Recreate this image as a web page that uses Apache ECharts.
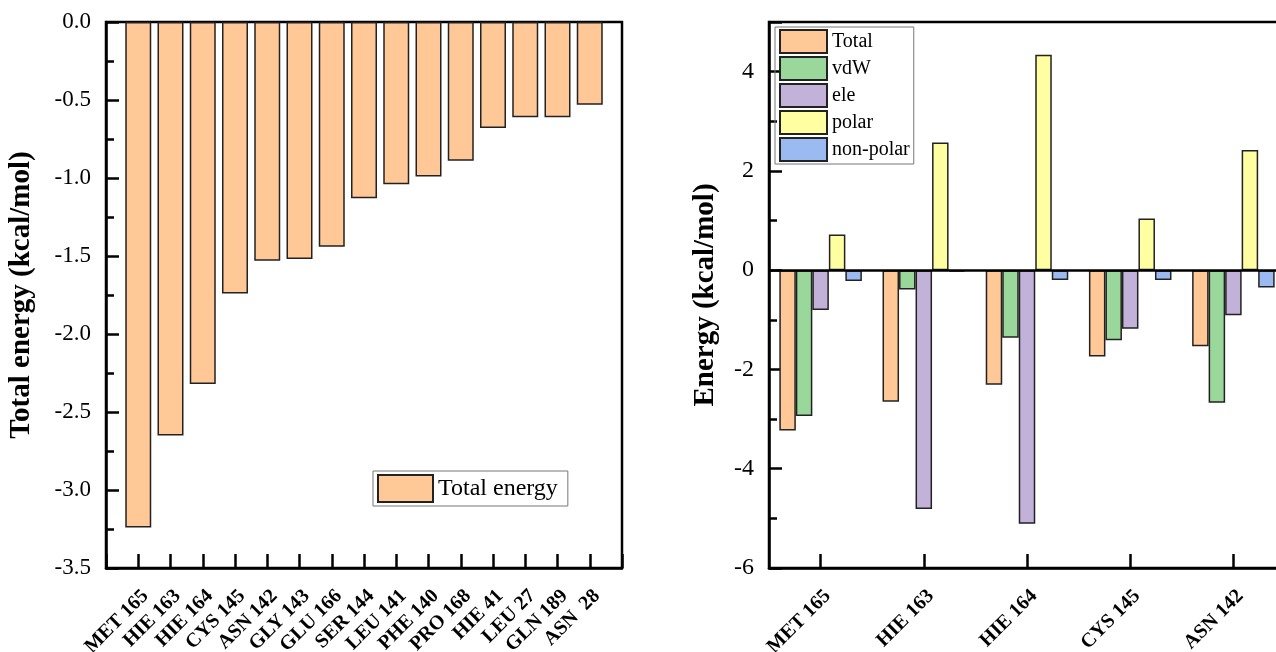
<!DOCTYPE html>
<html>
<head>
<meta charset="utf-8">
<script src="https://cdn.jsdelivr.net/npm/echarts@6/dist/echarts.min.js"></script>
<style>
  html, body { margin: 0; padding: 0; background: #fff; }
  #chart { width: 1276px; height: 652px; }
</style>
</head>
<body>
<div id="chart"></div>
<script>
// left panel: total energy per residue
const residues = ["MET 165", "HIE 163", "HIE 164", "CYS 145", "ASN 142", "GLY 143", "GLU 166",
  "SER 144", "LEU 141", "PHE 140", "PRO 168", "HIE 41", "LEU 27", "GLN 189", "ASN  28"]
const totalEnergy = [-3.24, -2.65, -2.32, -1.74, -1.53, -1.52, -1.44,
  -1.13, -1.04, -0.99, -0.89, -0.68, -0.61, -0.61, -0.53]

// right panel: decomposition for top five residues
const topResidues = ["MET 165", "HIE 163", "HIE 164", "CYS 145", "ASN 142"]
const totalTerm = [-3.23, -2.65, -2.31, -1.74, -1.53]
const vdwTerm = [-2.94, -0.39, -1.36, -1.41, -2.67]
const eleTerm = [-0.80, -4.81, -5.11, -1.18, -0.91]
const polarTerm = [0.72, 2.57, 4.34, 1.04, 2.42]
const nonPolarTerm = [-0.22, -0.03, -0.20, -0.20, -0.35]

const termNames = ["Total", "vdW", "ele", "polar", "non-polar"]
const termColors = ["#FFC896", "#9AD79A", "#C2B2DA", "#FFFFA2", "#9CBAF2"]

const serif = "Liberation Serif"
const lineW = 2.5

function valueAxis(grid, min, max, interval, digits, fontSize) {
  return {
    type: "value",
    gridIndex: grid,
    min,
    max,
    interval,
    axisLine: { show: true, lineStyle: { color: "#000", width: lineW } },
    // negative length = ticks pointing into the plot
    axisTick: { show: true, length: -13, lineStyle: { color: "#000", width: lineW } },
    minorTick: { show: true, splitNumber: 2, length: -8, lineStyle: { color: "#000", width: lineW } },
    splitLine: { show: false },
    axisLabel: {
      color: "#000",
      fontFamily: serif,
      fontSize,
      margin: 15,
      formatter: v => (v > max - 1e-9 && v % interval !== 0 ? "" : v.toFixed(digits))
    },
    nameLocation: "middle",
    nameTextStyle: { color: "#000", fontFamily: serif, fontWeight: "bold", fontSize: 29 }
  }
}

function categoryAxis(grid, data, boundaryGap) {
  return {
    type: "category",
    gridIndex: grid,
    data,
    boundaryGap,
    position: "bottom",
    axisLine: { show: true, onZero: false, lineStyle: { color: "#000", width: lineW } },
    axisTick: { show: true, alignWithLabel: true, length: -14, interval: 0, lineStyle: { color: "#000", width: lineW } },
    axisLabel: {
      interval: 0,
      rotate: 45,
      margin: 18,
      verticalAlign: "top",
      color: "#000",
      fontFamily: serif,
      fontWeight: "bold",
      fontSize: 20
    }
  }
}

const chart = echarts.init(document.getElementById("chart"))

const leftY = valueAxis(0, -3.5, 0, 0.5, 1, 23)
leftY.name = "Total energy (kcal/mol)"
leftY.nameGap = 70
const rightY = valueAxis(1, -6, 5, 2, 0, 24)
rightY.name = "Energy (kcal/mol)"
rightY.nameGap = 49

const termData = [totalTerm, vdwTerm, eleTerm, polarTerm, nonPolarTerm]

const gridBase = {
  top: 22, width: 516, height: 546,
  containLabel: false, outerBoundsMode: "none",
  show: true, borderColor: "#000", borderWidth: lineW
}

chart.setOption({
  animation: false,
  backgroundColor: "#fff",
  grid: [
    { ...gridBase, left: 106 },
    { ...gridBase, left: 769 }
  ],
  legend: [
    {
      data: ["Total energy"],
      left: 373,
      top: 471,
      padding: [3, 10, 3, 4],
      itemWidth: 55,
      itemHeight: 27,
      icon: "rect",
      borderColor: "#777",
      borderWidth: 1,
      textStyle: { color: "#000", fontFamily: serif, fontSize: 24, lineHeight: 27 }
    },
    {
      data: termNames,
      orient: "vertical",
      left: 775,
      top: 27,
      padding: [2, 4, 2, 4],
      itemGap: 2,
      itemWidth: 47,
      itemHeight: 23,
      icon: "rect",
      borderColor: "#777",
      borderWidth: 1,
      textStyle: { color: "#000", fontFamily: serif, fontSize: 20, lineHeight: 22 }
    }
  ],
  xAxis: [
    categoryAxis(0, ["", ...residues, ""], false),
    categoryAxis(1, topResidues, true)
  ],
  yAxis: [leftY, rightY],
  series: [
    {
      name: "Total energy",
      type: "bar",
      xAxisIndex: 0,
      yAxisIndex: 0,
      barWidth: 26,
      data: [null, ...totalEnergy, null],
      itemStyle: { color: "#FFC896", borderColor: "#222", borderWidth: 1.5 }
    },
    ...termNames.map((name, i) => ({
      name,
      type: "bar",
      xAxisIndex: 1,
      yAxisIndex: 1,
      barGap: "0%",
      barCategoryGap: "20%",
      data: termData[i],
      itemStyle: { color: termColors[i], borderColor: "#222", borderWidth: 1.5 },
      markLine: i === 0 ? {
        silent: true,
        symbol: ["none", "none"],
        label: { show: false },
        lineStyle: { color: "#000", width: lineW, type: "solid" },
        data: [{ yAxis: 0 }]
      } : undefined
    }))
  ]
})
</script>
</body>
</html>
